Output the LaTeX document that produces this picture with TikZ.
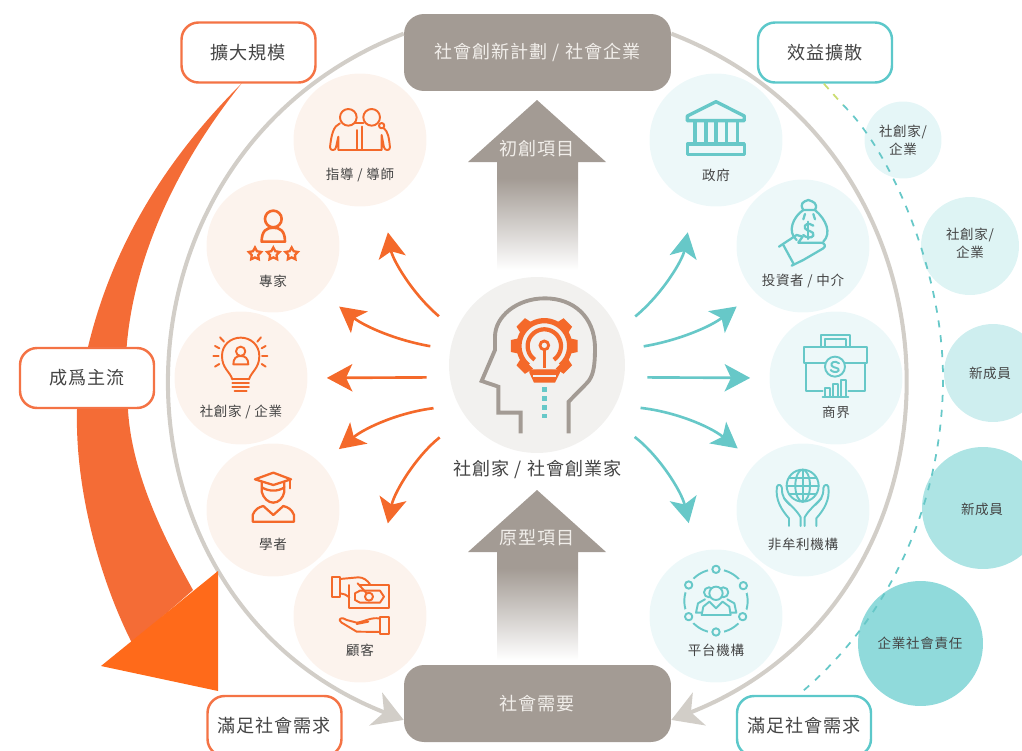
\documentclass[tikz,border=0pt]{standalone}
\usepackage{fontspec}
\setmainfont[LetterSpace=5]{Noto Sans CJK TC}
\usetikzlibrary{arrows.meta,shapes.geometric}

\definecolor{brandorange}{HTML}{F4692A}
\definecolor{boxorange}{HTML}{F47345}
\definecolor{sweeporange}{HTML}{F46C36}
\definecolor{headorange}{HTML}{FF6A1A}
\definecolor{brandteal}{HTML}{67C8C8}
\definecolor{boxteal}{HTML}{5CC8CA}
\definecolor{taupe}{HTML}{A39B94}
\definecolor{ringgray}{HTML}{D2CEC8}
\definecolor{warmfill}{HTML}{FCF3ED}
\definecolor{coolfill}{HTML}{EDF8F9}
\definecolor{hubfill}{HTML}{F2F1EF}
\definecolor{inkgray}{HTML}{444444}
\definecolor{paletext}{HTML}{F1EEEA}
\definecolor{limedash}{HTML}{CBDD72}

\begin{document}
\begin{tikzpicture}[x=0.02cm,y=-0.02cm]
        \tikzstyle{smalltext}=[text=inkgray, inner sep=0, align=center, font=\fontsize{7.7}{10.2}\selectfont]
        \tikzstyle{bigtext}=[text=inkgray, inner sep=0, font=\fontsize{10.3}{12}\selectfont]
        \tikzstyle{warmdisc}=[circle, fill=warmfill, minimum size=2.66cm, inner sep=0]
        \tikzstyle{cooldisc}=[circle, fill=coolfill, minimum size=2.66cm, inner sep=0]
        \tikzstyle{tagbox}=[rectangle, rounded corners=0.34cm, fill=white, line width=1.4pt, minimum width=2.68cm, minimum height=1.2cm, inner sep=0, text=inkgray, font=\fontsize{10.3}{12}\selectfont]
        \tikzstyle{stonebox}=[rectangle, rounded corners=0.4cm, fill=taupe, minimum width=5.34cm, minimum height=1.54cm, inner sep=0, text=paletext, font=\fontsize{10.3}{12}\selectfont]
        \tikzstyle{ringline}=[draw=ringgray, line width=2.3pt, -{Stealth[length=17pt,width=20pt,inset=5pt]}]
        \tikzstyle{orangeflow}=[draw=brandorange, line width=1.5pt, -{Stealth[length=14.5pt,width=15.5pt,inset=3.6pt]}]
        \tikzstyle{tealflow}=[draw=brandteal, line width=1.5pt, -{Stealth[length=14.5pt,width=15.5pt,inset=3.6pt]}]
        \tikzstyle{orangeicon}=[draw=brandorange, line width=1.1pt, line join=round, line cap=round]
        \tikzstyle{tealicon}=[draw=brandteal, line width=1.1pt, line join=round, line cap=round]
        \tikzstyle{ministar}=[star, star points=5, star point ratio=1.9, draw=brandorange, line width=1.3pt, minimum size=0.26cm, inner sep=0]

        \path[use as bounding box, clip] (0,0) rectangle (1022,751);

        % Add centre boxes
        \node[stonebox] (venture) at (537.5,52.5) {社會創新計劃 / 社會企業};
        \node[stonebox] (socialneed) at (537.5,703.5) {社會需要};

        % Draw big ring
        \draw[ringline] (venture.172) .. controls (93,154) and (92,598) .. (socialneed.187);
        \draw[ringline] (venture.8) .. controls (982,154) and (982,598) .. (socialneed.353);

        % Draw sweep arrow
        \fill[sweeporange] (242,83) .. controls (180,145) and (95,250) .. (77,410) .. controls (75,490) and (100,580) .. (132,643) -- (193,590) .. controls (165,540) and (132,475) .. (128,410) .. controls (116,320) and (148,200) .. (242,83) -- cycle;
        \fill[headorange] (218,571) -- (218,691) -- (101,666) -- cycle;

        % Add tag boxes
        \node[tagbox, draw=boxorange] (scaleup) at (248.5,52.5) {擴大規模};
        \node[tagbox, draw=boxorange] (mainstream) at (87,378) {成爲主流};
        \node[tagbox, draw=boxorange] (needleft) at (274.5,726) {滿足社會需求};
        \node[tagbox, draw=boxteal] (needright) at (804,726) {滿足社會需求};
        \node[tagbox, draw=boxteal] (spread) at (825,52.5) {效益擴散};

        % Add outer discs
        \node[circle, fill=boxteal!16, minimum size=1.54cm, inner sep=0] (outerone) at (903,140) {};
        \node[circle, fill=boxteal!20, minimum size=1.96cm, inner sep=0] (outertwo) at (970,246) {};
        \node[circle, fill=boxteal!30, minimum size=1.96cm, inner sep=0] (outerthree) at (993,373) {};
        \node[circle, fill=boxteal!50, minimum size=2.44cm, inner sep=0] (outerfour) at (983,508) {};
        \node[circle, fill=boxteal!68, minimum size=2.5cm, inner sep=0] (outerfive) at (920.5,643.5) {};
        \node[smalltext] (outeronetext) at (903,140) {社創家/\\企業};
        \node[smalltext] (outertwotext) at (970,243.5) {社創家/\\企業};
        \node[smalltext] (outerthreetext) at (990,373) {新成員};
        \node[smalltext] (outerfourtext) at (982,509) {新成員};
        \node[smalltext] (outerfivetext) at (920,643) {企業社會責任};

        % Draw dashed spread line
        \coordinate (limeend) at (843,105);
        \coordinate (dashmid) at (943,378);
        \draw[draw=limedash, line width=1pt, dash pattern=on 4pt off 4pt] (spread.268) -- (limeend);
        \draw[draw=brandteal, line width=1pt, dash pattern=on 4pt off 4.5pt] (limeend) .. controls (890,150) and (943,270) .. (dashmid) .. controls (943,500) and (891,618) .. (needright.100);

        % Add block arrows
        \foreach \ya in {100,490} {
            \fill[taupe] (468,\ya+62) -- (537,\ya) -- (606,\ya+62) -- (578,\ya+62) -- (578,\ya+78) -- (497,\ya+78) -- (497,\ya+62) -- cycle;
            \shade[top color=taupe, bottom color=white] (497,\ya+78) rectangle (578,\ya+170);
        }
        \node[bigtext, text=paletext] (startuptext) at (537,149) {初創項目};
        \node[bigtext, text=paletext] (prototext) at (537,538) {原型項目};

        % Add hub
        \node[circle, fill=hubfill, minimum size=3.52cm, inner sep=0] (hub) at (537,365) {};
        \node[bigtext] (hubtext) at (537.5,469) {社創家 / 社會創業家};

        % Add discs on the left and the right
        \foreach \name/\xc/\yc/\txt/\ly in {mentor/360/140/{指導 / 導師}/175, expert/273/246/{專家}/281, founder/241/378/{社創家 / 企業}/412, scholar/273/510/{學者}/544, customer/360/616/{顧客}/650} {
            \node[warmdisc] (\name) at (\xc,\yc) {};
            \node[smalltext] (\name text) at (\xc,\ly) {\txt};
        }
        \foreach \name/\xc/\yc/\txt/\ly in {gov/716/140/{政府}/175, investor/803/246/{投資者 / 中介}/281, business/836/378/{商界}/412, charity/803/510/{非牟利機構}/544, platform/716/616/{平台機構}/650} {
            \node[cooldisc] (\name) at (\xc,\yc) {};
            \node[smalltext] (\name text) at (\xc,\ly) {\txt};
        }

        % Draw arrows out of the hub
        \foreach \ha/\goal/\ga/\bd/\sa/\sb in {157/mentor/-70/20/0.44/0.6, 170/expert/-44.5/14/0.4/0.46, 188.5/founder/0/0/0.46/0.38, 207/scholar/44.5/-16/0.5/0.46, 216/customer/71/-20/0.66/0.6} {
            \draw[orangeflow, shorten <=\sa cm, shorten >=\sb cm] (hub.\ha) to[bend left=\bd] (\goal.\ga);
        }
        \foreach \ha/\goal/\ga/\bd/\sa/\sb in {23/gov/250/-20/0.44/0.6, 10/investor/224.5/-14/0.4/0.46, -8.5/business/180/0/0.46/0.38, -27/charity/135.5/16/0.5/0.46, -36/platform/108/20/0.66/0.6} {
            \draw[tealflow, shorten <=\sa cm, shorten >=\sb cm] (hub.\ha) to[bend left=\bd] (\goal.\ga);
        }

        % Draw hub icon
        \begin{scope}[shift={(430,270)},scale=0.3333]
            \draw[draw=taupe, line width=2.2pt, line join=miter] (416,490) -- (416,395) -- (470,340) .. controls (490,320) and (495,290) .. (495,235) .. controls (495,140) and (430,85) .. (345,85) .. controls (260,85) and (195,140) .. (195,200) -- (195,240) -- (155,333) -- (205,350) -- (205,428) -- (272,428) -- (272,490);
            \foreach \a in {0,45,...,315} {
                \ifnum\a=90\else
                \fill[brandorange, rotate around={\a:(343,228)}] (415,204) -- (443,210) -- (443,246) -- (415,252) -- cycle;
                \fi
            }
            \draw[draw=brandorange, line width=3pt] plot[domain=130:410, samples=50, smooth] ({343+76*cos(\x)},{228+76*sin(\x)});
            \draw[draw=brandorange, line width=2.4pt] plot[domain=125:415, samples=50, smooth] ({343+50*cos(\x)},{228+50*sin(\x)});
            \draw[draw=brandorange, line width=1.6pt] (343,226) circle [radius=13];
            \draw[draw=brandorange, line width=1.6pt] (343,240) -- (343,295);
            \fill[brandorange] (298,298) -- (390,298) -- (390,308) -- (375,338) -- (312,338) -- (298,308) -- cycle;
            \draw[draw=hubfill, line width=0.8pt] (310,318) -- (378,318);
            \foreach \y in {358,385,412,438} {
                \fill[brandteal] (336,\y-7) rectangle (350,\y+7);
            }
        \end{scope}

        % Draw icons on the left
        \begin{scope}[shift={(170,60)},scale=0.3333]
            % mentor
            \draw[orangeicon] (535,172) circle [radius=25];
            \draw[orangeicon] (605,172) circle [radius=25];
            \draw[orangeicon] (635,197) circle [radius=8];
            \draw[orangeicon] (510,190) .. controls (490,198) and (484,225) .. (480,262) .. controls (480,273) and (497,273) .. (498,262) -- (505,230) -- (505,270) -- (635,270) -- (635,225) -- (642,262) .. controls (645,273) and (660,273) .. (660,262) .. controls (657,235) and (655,215) .. (641,204);
            \draw[orangeicon] (562,210) -- (562,270);
            \draw[orangeicon] (575,200) -- (575,270);
            \draw[orangeicon] (555,190) -- (580,190);
            % expert
            \draw[orangeicon, line width=1.5pt] (310,477) circle [radius=25];
            \draw[orangeicon, line width=1.5pt] (275,545) .. controls (275,512) and (290,503) .. (310,503) .. controls (330,503) and (345,512) .. (345,545) -- cycle;
            \foreach \s in {255,310,365} {
                \node[ministar] (star\s) at (\s,582) {};
            }
            % founder
            \draw[orangeicon] (187,958) .. controls (180,935) and (156,925) .. (156,888) .. controls (156,855) and (182,833) .. (212,833) .. controls (242,833) and (268,855) .. (268,888) .. controls (268,925) and (244,935) .. (237,958);
            \foreach \y in {958,970,982} {
                \draw[orangeicon] (187,\y) -- (237,\y);
            }
            \draw[orangeicon] (194,992) -- (230,992);
            \draw[orangeicon] (212,874) circle [radius=14];
            \draw[orangeicon] (190,913) -- (235,913) .. controls (235,895) and (225,888) .. (212,888) .. controls (199,888) and (190,895) .. (190,913) -- cycle;
            \foreach \xa/\ya/\xb/\yb in {150/832/162/845, 273/832/262/845, 135/858/148/865, 287/858/275/865, 130/889/146/889, 292/889/276/889, 135/920/148/912, 287/920/275/912} {
                \draw[orangeicon] (\xa,\ya) -- (\xb,\yb);
            }
        \end{scope}
        \begin{scope}[shift={(190,430)},scale=0.3333]
            % scholar
            \draw[orangeicon, line width=1.3pt] (195,148) -- (250,128) -- (303,148) -- (250,165) -- cycle;
            \draw[orangeicon, line width=1.3pt] (300,148) -- (300,175);
            \draw[orangeicon, line width=1.3pt] (215,155) -- (215,185) .. controls (220,205) and (235,218) .. (250,218) .. controls (265,218) and (280,205) .. (283,185) -- (283,155);
            \draw[orangeicon, line width=1.3pt] (216,172) .. controls (235,185) and (265,185) .. (283,172);
            \draw[orangeicon, line width=1.3pt] (188,275) -- (312,275) -- (312,255) .. controls (305,238) and (295,232) .. (280,228) -- (250,255) -- (220,228) .. controls (205,232) and (195,238) .. (188,255) -- cycle;
            % customer
            \draw[orangeicon] (425,442) rectangle (450,500);
            \draw[orangeicon] (450,447) -- (505,442) .. controls (520,442) and (530,450) .. (540,462);
            \draw[orangeicon] (450,490) .. controls (460,490) and (470,495) .. (478,502);
            \draw[orangeicon] (503,460) -- (530,490);
            \draw[orangeicon] (478,465) -- (478,535) -- (596,535) -- (596,465) -- (510,465);
            \draw[orangeicon] (495,490) -- (510,482) -- (570,482) -- (582,500) -- (570,518) -- (510,518) -- (495,510) -- cycle;
            \draw[orangeicon] (537,500) circle [radius=12];
            \draw[orangeicon] (570,560) rectangle (596,612);
            \draw[orangeicon] (570,566) .. controls (545,560) and (525,575) .. (500,578) -- (470,570) .. controls (455,558) and (440,568) .. (455,578) -- (500,605) -- (570,606);
            \draw[orangeicon] (500,582) -- (535,575);
        \end{scope}

        % Draw icons on the right
        \begin{scope}[shift={(640,60)},scale=0.3333]
            % gov
            \draw[tealicon, line width=1.9pt] (142,182) -- (142,168) -- (228,125) -- (313,168) -- (313,182) -- cycle;
            \foreach \x in {165,198,228,260,292} {
                \draw[tealicon, line width=1.9pt] (\x,185) -- (\x,252);
            }
            \draw[tealicon, line width=1.9pt] (142,252) rectangle (313,284);
            % investor
            \draw[tealicon, line width=1.3pt] (490,450) .. controls (460,470) and (440,515) .. (470,540);
            \draw[tealicon, line width=1.3pt] (525,450) .. controls (560,480) and (575,520) .. (550,545);
            \draw[tealicon, line width=1.3pt] (490,450) .. controls (478,430) and (490,425) .. (505,420) .. controls (520,425) and (535,430) .. (525,450) -- cycle;
            \draw[tealicon, line width=1.3pt] (495,462) -- (490,478);
            \draw[tealicon, line width=1.3pt] (520,462) -- (525,478);
            \draw[tealicon, line width=1.3pt] (520,497) .. controls (505,485) and (490,495) .. (495,505) .. controls (500,515) and (525,512) .. (520,527) .. controls (515,537) and (495,532) .. (490,525);
            \draw[tealicon, line width=1.3pt] (505,485) -- (505,537);
            \draw[tealicon, line width=1.3pt] (417,560) -- (470,525) -- (488,530) -- (475,548) -- (545,548) .. controls (555,550) and (558,560) .. (550,565) -- (490,600) -- (455,617);
            \draw[tealicon, line width=1.3pt] (430,555) -- (460,610);
            % business
            \draw[tealicon] (543,860) -- (543,825) -- (630,825) -- (630,860);
            \draw[tealicon] (555,860) -- (555,838) -- (618,838) -- (618,860);
            \draw[tealicon] (493,860) rectangle (680,910);
            \draw[tealicon] (498,910) -- (498,993) -- (548,993);
            \draw[tealicon] (625,993) -- (675,993) -- (675,910);
            \filldraw[tealicon, fill=coolfill] (585,920) circle [radius=30];
            \draw[tealicon] (597,910) .. controls (585,900) and (570,908) .. (575,917) .. controls (580,925) and (600,922) .. (596,932) .. controls (590,940) and (575,935) .. (572,930);
            \draw[tealicon] (548,1010) -- (625,1010);
            \draw[tealicon] (556,1010) -- (556,985) -- (570,985) -- (570,1010);
            \draw[tealicon] (580,1010) -- (580,972) -- (595,972) -- (595,1010);
            \draw[tealicon] (603,1010) -- (603,960) -- (618,960) -- (618,1010);
        \end{scope}
        \begin{scope}[shift={(640,430)},scale=0.3333]
            % charity
            \draw[tealicon] (488,167) circle [radius=48];
            \draw[tealicon] (488,167) ellipse [x radius=22, y radius=48];
            \draw[tealicon] (488,119) -- (488,215);
            \draw[tealicon] (440,167) -- (536,167);
            \draw[tealicon] (447,143) -- (529,143);
            \draw[tealicon] (447,191) -- (529,191);
            \foreach \sx/\ox in {1/0, -1/976} {
                \draw[tealicon] (\ox+\sx*447,288) -- (\ox+\sx*447,265) .. controls (\ox+\sx*425,240) and (\ox+\sx*405,210) .. (\ox+\sx*411,170) .. controls (\ox+\sx*415,160) and (\ox+\sx*425,165) .. (\ox+\sx*426,175) .. controls (\ox+\sx*425,200) and (\ox+\sx*435,210) .. (\ox+\sx*450,225);
                \draw[tealicon] (\ox+\sx*482,288) -- (\ox+\sx*482,262) .. controls (\ox+\sx*470,240) and (\ox+\sx*450,225) .. (\ox+\sx*432,205);
            }
            % platform
            \draw[tealicon] (228,513) circle [radius=95];
            \foreach \x/\y in {228/418, 310/467, 308/560, 228/606, 146/560, 146/465} {
                \fill[coolfill] (\x,\y) circle [radius=24];
                \draw[tealicon] (\x,\y) circle [radius=11];
            }
            \draw[tealicon] (207,487) circle [radius=15];
            \draw[tealicon] (250,487) circle [radius=15];
            \filldraw[tealicon, fill=coolfill] (228,490) circle [radius=20];
            \draw[tealicon] (185,555) -- (272,555) -- (268,530) -- (248,515) -- (228,535) -- (208,515) -- (190,530) -- cycle;
            \draw[tealicon] (185,548) -- (168,548) -- (174,520) -- (195,508);
            \draw[tealicon] (272,548) -- (289,548) -- (283,520) -- (262,508);
        \end{scope}
    \end{tikzpicture}
\end{document}
